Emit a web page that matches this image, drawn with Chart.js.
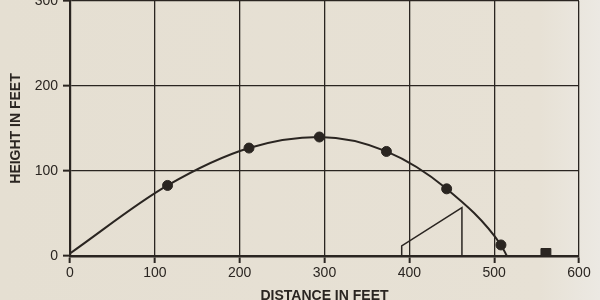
<!DOCTYPE html>
<html>
<head>
<meta charset="utf-8">
<script src="https://cdn.jsdelivr.net/npm/chart.js@4/dist/chart.umd.min.js"></script>
<style>
  html, body { margin: 0; padding: 0; }
  body { width: 600px; height: 300px; background: linear-gradient(90deg, #e5dfd2 0%, #e7e1d5 90%, #ece9e3 100%); }
  canvas { display: block; }
</style>
</head>
<body>
<canvas id="c" width="600" height="300"></canvas>
<script>
// ---- data (feet) ----
const ballX = [115, 211, 294, 373, 444, 508];
const ballY = [83, 127, 140, 123, 79, 13];
const startPoint = [0, 3];
const endPoint = [515, 0];
const landX = [561];
const landY = [3];
const standX = [391, 391, 462, 462];
const standY = [0, 12, 57, 0];
const xTicks = [0, 100, 200, 300, 400, 500, 600];
const yTicks = [0, 100, 200, 300];

const INK = '#2a2521';
const FONT = "'Liberation Sans', Arial, sans-serif";

const pts = (xs, ys) => xs.map((x, i) => ({ x: x, y: ys[i] }));
const curve = [{ x: startPoint[0], y: startPoint[1] }]
  .concat(pts(ballX, ballY))
  .concat([{ x: endPoint[0], y: endPoint[1] }]);

new Chart(document.getElementById('c'), {
  type: 'scatter',
  data: {
    datasets: [
      { data: curve, showLine: true, cubicInterpolationMode: 'monotone', borderColor: INK, borderWidth: 2, pointRadius: 0 },
      { data: pts(ballX, ballY), pointRadius: 5, backgroundColor: INK, borderColor: INK },
      { data: pts(landX, landY), pointStyle: 'rect', pointRadius: 7, backgroundColor: INK, borderColor: INK },
      { data: pts(standX, standY), showLine: true, tension: 0, borderColor: INK, borderWidth: 1.5, pointRadius: 0 }
    ]
  },
  options: {
    responsive: false,
    animation: false,
    layout: { autoPadding: false, padding: { top: 1, right: 21, left: 0, bottom: 0 } },
    plugins: { legend: { display: false }, tooltip: { enabled: false } },
    scales: {
      x: {
        type: 'linear', min: 0, max: 600,
        afterBuildTicks: s => { s.ticks = xTicks.map(v => ({ value: v })); },
        afterFit: s => { s.height = 44; s.paddingLeft = 0; s.paddingRight = 0; },
        ticks: { color: INK, font: { family: FONT, size: 14 }, padding: 2, maxRotation: 0 },
        grid: { color: INK, lineWidth: 1.3, tickLength: 7, tickColor: INK, tickWidth: 2 },
        border: { color: INK, width: 2.5 },
        title: { display: true, text: 'DISTANCE IN FEET', color: INK, font: { family: FONT, size: 14, weight: 'bold' }, padding: { top: 0, bottom: -5 } }
      },
      y: {
        type: 'linear', min: 0, max: 300,
        afterBuildTicks: s => { s.ticks = yTicks.map(v => ({ value: v })); },
        afterFit: s => { s.width = 70; s.paddingTop = 0; s.paddingBottom = 0; },
        ticks: { color: INK, font: { family: FONT, size: 14 }, padding: 5 },
        grid: { color: INK, lineWidth: 1.3, tickLength: 7, tickColor: INK, tickWidth: 2 },
        border: { color: INK, width: 2.2 },
        title: { display: true, text: 'HEIGHT IN FEET', color: INK, font: { family: FONT, size: 14, weight: 'bold' }, padding: { top: 8, bottom: 0 } }
      }
    }
  }
});
</script>
</body>
</html>
